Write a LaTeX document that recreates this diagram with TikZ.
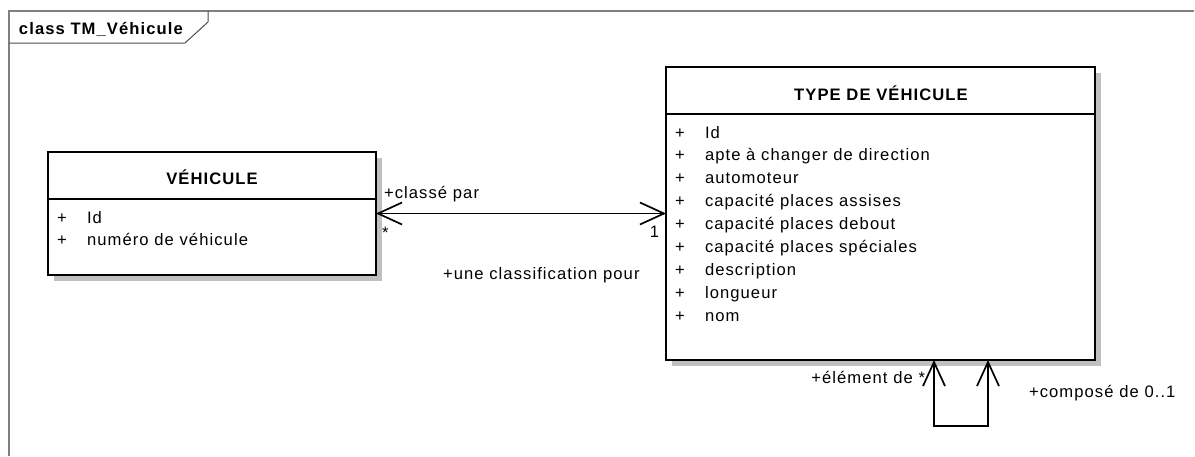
\documentclass[tikz,border=0pt]{standalone}
\usepackage{fontspec}
\setmainfont{Liberation Sans}[LetterSpace=6.5]
\usetikzlibrary{arrows.meta,calc,shadows}
\definecolor{framegray}{HTML}{808080}
\definecolor{shadowgray}{HTML}{C0C0C0}
\begin{document}
\begin{tikzpicture}[x=1pt,y=-1pt,
  every node/.style={inner sep=0pt,outer sep=0pt,font=\fontsize{16.6}{19}\selectfont},
  classbox/.style={draw=black,line width=1.7pt,fill=white,anchor=north west,
    drop shadow={shadow xshift=6pt,shadow yshift=-6pt,fill=shadowgray,opacity=1}},
  sepline/.style={line width=1.7pt},
  title/.style={anchor=base,font=\fontsize{16.6}{19}\selectfont\bfseries},
  attr/.style={anchor=base west},
  vis/.style={anchor=base},
  lbl/.style={anchor=base west},
  barb/.tip={Straight Barb[length=24pt,width=22pt]},
  assoc/.style={line width=1.7pt,barb-barb},
]
\useasboundingbox (0,0) rectangle (1195,456);

% diagram frame and its name tab
\draw[framegray,line width=1.8pt] (9,456) -- (9,11) -- (1194,11);
\draw[black!70,line width=1pt] (9,43) -- (185,43) -- (208,22) -- (208,11);
\node[anchor=base west,font=\fontsize{16.6}{19}\selectfont\bfseries] (frametitle) at (19,34) {class TM\_Véhicule};

% class VÉHICULE
\node[classbox,minimum width=328pt,minimum height=123pt] (veh) at (48,152) {};
\draw[sepline] ($(veh.north west)+(0,47)$) -- ($(veh.north east)+(0,47)$);
\node[title] (vehtitle) at (212,184) {VÉHICULE};
\node[vis] (vehv1) at (62,223) {+};
\node[attr] (veha1) at (87,223) {Id};
\node[vis] (vehv2) at (62,245) {+};
\node[attr] (veha2) at (87,245) {numéro de véhicule};

% class TYPE DE VÉHICULE
\node[classbox,minimum width=429pt,minimum height=293pt] (typ) at (666,67) {};
\draw[sepline] ($(typ.north west)+(0,47)$) -- ($(typ.north east)+(0,47)$);
\node[title] (typtitle) at (881,100) {TYPE DE VÉHICULE};
\foreach \t [count=\i from 0] in {Id,apte à changer de direction,automoteur,
  capacité places assises,capacité places debout,capacité places spéciales,
  description,longueur,nom}{
  \node[vis] (typv\i) at (680,138+22.9*\i) {+};
  \node[attr] (typa\i) at (705,138+22.9*\i) {\t};
}

% association VÉHICULE -- TYPE DE VÉHICULE
\draw[assoc] (veh.east) -- (typ.west);
\node[lbl] (rolea) at (384,198) {+classé par};
\node[lbl] (multa) at (382,238) {*};
\node[anchor=base east] (multb) at (659,237) {1};
\node[lbl] (roleb) at (443,279) {+une classification pour};

% reflexive association on TYPE DE VÉHICULE
\coordinate (loopa) at ($(typ.south west)+(268,0)$);
\coordinate (loopb) at ($(typ.south west)+(322,0)$);
\draw[assoc] (loopa) -- ($(loopa)+(0,66)$) -- ($(loopb)+(0,66)$) -- (loopb);
\node[anchor=base east] (rolec) at (925,383) {+élément de *};
\node[lbl] (roled) at (1029,397) {+composé de 0..1};
\end{tikzpicture}
\end{document}
